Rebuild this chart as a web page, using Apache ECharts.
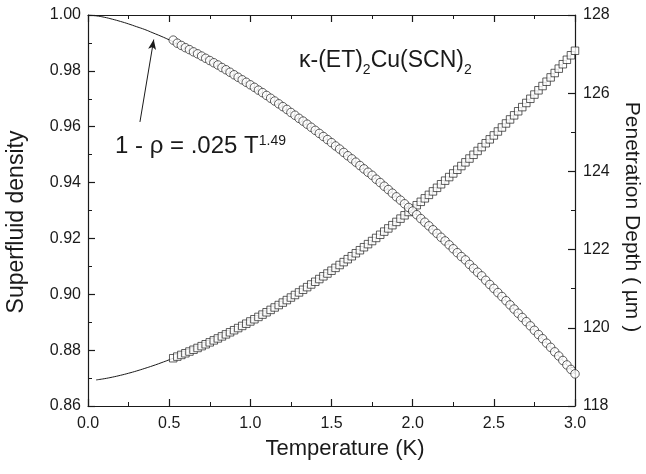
<!DOCTYPE html>
<html>
<head>
<meta charset="utf-8">
<script src="https://cdn.jsdelivr.net/npm/echarts@6/dist/echarts.min.js"></script>
<style>html,body{margin:0;padding:0;background:#fff;}#c{width:646px;height:474px;}</style>
</head>
<body>
<div id="c"></div>
<script>
// Measured temperatures (K)
var temps = [0.525,0.55,0.575,0.6,0.625,0.65,0.675,0.7,0.725,0.75,0.775,0.8,0.825,0.85,0.875,0.9,0.925,0.95,0.975,1.0,
1.025,1.05,1.075,1.1,1.125,1.15,1.175,1.2,1.225,1.25,1.275,1.3,1.325,1.35,1.375,1.4,1.425,1.45,1.475,1.5,
1.525,1.55,1.575,1.6,1.625,1.65,1.675,1.7,1.725,1.75,1.775,1.8,1.825,1.85,1.875,1.9,1.925,1.95,1.975,2.0,
2.025,2.05,2.075,2.1,2.125,2.15,2.175,2.2,2.225,2.25,2.275,2.3,2.325,2.35,2.375,2.4,2.425,2.45,2.475,2.5,
2.525,2.55,2.575,2.6,2.625,2.65,2.675,2.7,2.725,2.75,2.775,2.8,2.825,2.85,2.875,2.9,2.925,2.95,2.975,3.0];
// Superfluid density (circles, left axis)
var density = [0.9910,0.9899,0.9891,0.9883,0.9876,0.9868,0.9861,0.9853,0.9845,0.9837,0.9829,0.9821,0.9812,0.9804,0.9795,0.9786,0.9777,0.9768,0.9759,0.9750,
0.9741,0.9731,0.9722,0.9712,0.9702,0.9692,0.9682,0.9672,0.9662,0.9651,0.9641,0.9630,0.9620,0.9609,0.9598,0.9587,0.9576,0.9565,0.9554,0.9543,
0.9531,0.9520,0.9508,0.9496,0.9485,0.9473,0.9461,0.9449,0.9437,0.9426,0.9412,0.9400,0.9387,0.9375,0.9362,0.9349,0.9337,0.9324,0.9311,0.9298,
0.9285,0.9271,0.9258,0.9245,0.9231,0.9218,0.9204,0.9191,0.9177,0.9163,0.9149,0.9135,0.9123,0.9107,0.9093,0.9079,0.9066,0.9050,0.9035,0.9021,
0.9006,0.8992,0.8977,0.8962,0.8947,0.8932,0.8917,0.8902,0.8887,0.8871,0.8856,0.8841,0.8825,0.8810,0.8794,0.8779,0.8763,0.8747,0.8731,0.8715];
// Penetration depth in micrometres (squares, right axis)
var depth = [119.222,119.263,119.306,119.349,119.393,119.438,119.484,119.531,119.579,119.628,119.678,119.728,119.780,119.832,119.885,119.938,119.993,120.048,120.105,120.162,
120.219,120.278,120.337,120.397,120.458,120.520,120.582,120.645,120.709,120.774,120.839,120.905,120.972,121.040,121.108,121.177,121.247,121.317,121.388,121.460,
121.533,121.606,121.680,121.755,121.831,121.907,121.984,122.061,122.140,122.219,122.298,122.379,122.460,122.542,122.625,122.708,122.792,122.877,122.962,123.048,
123.135,123.222,123.311,123.400,123.489,123.580,123.671,123.763,123.855,123.948,124.042,124.137,124.232,124.329,124.425,124.523,124.621,124.720,124.820,124.920,
125.021,125.123,125.226,125.329,125.434,125.538,125.644,125.750,125.857,125.965,126.074,126.183,126.293,126.404,126.516,126.628,126.741,126.855,126.970,127.085];
// Fit curves
var fitTemps = [0,0.05,0.1,0.15,0.2,0.25,0.3,0.35,0.4,0.45,0.5,0.6,0.7,0.8,0.9,1.0,1.1,1.2,1.3,1.4,1.5,1.6,1.7,1.8,1.9,2.0,2.1,2.2,2.3,2.4,2.5,2.6,2.7,2.8,2.9,3.0];
var fitDensity = [1.0,0.9997,0.9992,0.9985,0.9977,0.9968,0.9958,0.9948,0.9936,0.9924,0.9911,0.9883,0.9853,0.9821,0.9786,0.9750,0.9712,0.9672,0.9630,0.9587,0.9543,0.9496,0.9449,0.9400,0.9350,0.9298,0.9245,0.9191,0.9135,0.9079,0.9021,0.8962,0.8902,0.8841,0.8779,0.8715];
var fitDepthTemps = [0.05,0.1,0.15,0.2,0.25,0.3,0.35,0.4,0.45,0.5,0.6,0.7,0.8,0.9,1.0,1.1,1.2,1.3,1.4,1.5,1.6,1.7,1.8,1.9,2.0,2.1,2.2,2.3,2.4,2.5,2.6,2.7,2.8,2.9,3.0];
var fitDepth = [118.667,118.698,118.738,118.785,118.838,118.897,118.962,119.030,119.104,119.182,119.349,119.531,119.728,119.938,120.162,120.397,120.645,120.905,121.177,121.460,121.755,122.061,122.379,122.708,123.048,123.400,123.763,124.137,124.523,124.920,125.329,125.750,126.183,126.628,127.085];
// Axis ticks
var xTicks = {min: 0, max: 3, interval: 0.5};
var leftTicks = {min: 0.86, max: 1.00, interval: 0.02};
var rightTicks = {min: 118, max: 128, interval: 2};
// Annotation arrow (data coords)
var arrowFrom = [0.32, 0.9617];
var arrowTo = [0.405, 0.9912];

function zip(a, b) { return a.map(function (v, i) { return [v, b[i]]; }); }

var FONT = 'Liberation Sans, Arial, sans-serif';
var INK = '#1a1a1a';
var chart = echarts.init(document.getElementById('c'), null, {renderer: 'canvas'});

function axisCommon() {
  return {
    axisLine: {show: true, onZero: false, lineStyle: {color: INK, width: 1.2}},
    axisTick: {show: true, inside: true, length: 7, lineStyle: {color: INK, width: 1.2}},
    minorTick: {show: true, splitNumber: 2, length: 4, lineStyle: {color: INK, width: 1}},
    splitLine: {show: false},
    axisLabel: {color: INK, fontFamily: FONT, fontSize: 16}
  };
}

var xBottom = Object.assign(axisCommon(), {
  type: 'value', position: 'bottom', min: xTicks.min, max: xTicks.max, interval: xTicks.interval
});
xBottom.axisLabel = {color: INK, fontFamily: FONT, fontSize: 16, margin: 10, formatter: function (v) { return v.toFixed(1); }};
var xTop = Object.assign(axisCommon(), {type: 'value', position: 'top', min: xTicks.min, max: xTicks.max, interval: xTicks.interval});
xTop.axisLabel = {show: false};

var yLeft = Object.assign(axisCommon(), {
  type: 'value', position: 'left', min: leftTicks.min, max: leftTicks.max, interval: leftTicks.interval
});
yLeft.axisLabel = {color: INK, fontFamily: FONT, fontSize: 16, margin: 7, formatter: function (v) { return v.toFixed(2); }};
var yRight = Object.assign(axisCommon(), {
  type: 'value', position: 'right', min: rightTicks.min, max: rightTicks.max, interval: rightTicks.interval
});
yRight.axisLabel = {color: INK, fontFamily: FONT, fontSize: 16, margin: 8};

chart.setOption({
  animation: false,
  backgroundColor: '#fff',
  grid: {left: 88, right: 71, top: 15, bottom: 68},
  xAxis: [xBottom, xTop],
  yAxis: [yLeft, yRight],
  series: [
    {
      type: 'line', xAxisIndex: 0, yAxisIndex: 0, data: zip(fitTemps, fitDensity),
      smooth: true, showSymbol: false, lineStyle: {color: INK, width: 1}, z: 1,
      markLine: {
        silent: true, animation: false,
        symbol: ['none', 'arrow'], symbolSize: [6, 10],
        lineStyle: {color: INK, width: 1, type: 'solid'},
        label: {show: false},
        data: [[{coord: arrowFrom}, {coord: arrowTo}]]
      }
    },
    {
      type: 'line', xAxisIndex: 0, yAxisIndex: 1, data: zip(fitDepthTemps, fitDepth),
      smooth: true, showSymbol: false, lineStyle: {color: INK, width: 1}, z: 1
    },
    {
      type: 'scatter', xAxisIndex: 0, yAxisIndex: 0, data: zip(temps, density),
      symbol: 'circle', symbolSize: 8.5,
      itemStyle: {color: '#fff', borderColor: '#222', borderWidth: 0.9}, z: 3
    },
    {
      type: 'scatter', xAxisIndex: 0, yAxisIndex: 1, data: zip(temps, depth),
      symbol: 'rect', symbolSize: 7.5,
      itemStyle: {color: '#fff', borderColor: '#222', borderWidth: 0.9}, z: 2
    }
  ],
  graphic: [
    {
      type: 'text', x: 17, y: 222, rotation: Math.PI / 2,
      style: {text: 'Superfluid density', fontFamily: FONT, fontSize: 23, fill: INK, textAlign: 'center', textVerticalAlign: 'middle'}
    },
    {
      type: 'text', x: 345, y: 449,
      style: {text: 'Temperature (K)', fontFamily: FONT, fontSize: 22, fill: INK, textAlign: 'center', textVerticalAlign: 'middle'}
    },
    {
      type: 'text', x: 632, y: 217, rotation: -Math.PI / 2,
      style: {text: 'Penetration Depth ( \u00b5m )', fontFamily: FONT, fontSize: 21, fill: INK, textAlign: 'center', textVerticalAlign: 'middle'}
    },
    {
      type: 'text', left: 299, top: 49,
      style: {
        text: '{a|\u03ba-(ET)}{s|2}{a|Cu(SCN)}{s|2}',
        rich: {
          a: {fontFamily: FONT, fontSize: 23, fill: INK, lineHeight: 26, verticalAlign: 'top'},
          s: {fontFamily: FONT, fontSize: 14, fill: INK, lineHeight: 26, padding: [14, 0, 0, 0], verticalAlign: 'top'}
        }
      }
    },
    {
      type: 'text', left: 115, top: 134,
      style: {
        text: '{a|1 - \u03c1 = .025 T}{p|1.49}',
        rich: {
          a: {fontFamily: FONT, fontSize: 24, fill: INK, lineHeight: 28, verticalAlign: 'top'},
          p: {fontFamily: FONT, fontSize: 14, fill: INK, lineHeight: 28, padding: [0, 0, 14, 0], verticalAlign: 'top'}
        }
      }
    }
  ]
});
</script>
</body>
</html>
